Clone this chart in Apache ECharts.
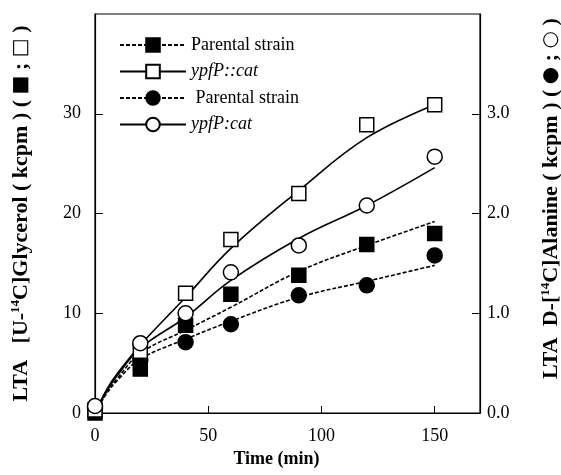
<!DOCTYPE html>
<html>
<head>
<meta charset="utf-8">
<script src="https://cdn.jsdelivr.net/npm/echarts@6/dist/echarts.min.js"></script>
<style>
  html, body { margin: 0; padding: 0; background: #fff; }
  #myChart { width: 561px; height: 475px; }
</style>
</head>
<body>
<div id="myChart"></div>
<script>
// measured points (time in min)
const times = [0, 20, 40, 60, 90, 120, 150]
// glycerol, left axis (kcpm)
const parentGly = [0, 4.4, 8.8, 11.9, 13.8, 16.9, 18.0]
const mutantGly = [0.3, 6.2, 12.0, 17.4, 22.0, 28.9, 30.9]
// alanine, right axis (kcpm)
const parentAla = [0.05, 0.53, 0.71, 0.89, 1.18, 1.28, 1.58]
const mutantAla = [0.07, 0.70, 1.00, 1.41, 1.68, 2.08, 2.57]

// fitted curves as drawn
const fitTimes = [0, 5, 10, 20, 40, 60, 90, 120, 150]
const parentGlyFit = [0, 2.0, 3.5, 6.0, 8.3, 10.6, 14.2, 16.8, 19.2]
const mutantGlyFit = [0, 2.3, 4.0, 6.8, 11.6, 16.5, 22.3, 27.6, 30.9]
const parentAlaFit = [0, 0.19, 0.33, 0.54, 0.74, 0.92, 1.16, 1.32, 1.48]
const mutantAlaFit = [0, 0.21, 0.38, 0.65, 0.96, 1.33, 1.75, 2.08, 2.46]

const legendNames = {
  sqP: 'Parental strain',
  sqM: '{i|ypfP::cat}',
  ciP: ' Parental strain',
  ciM: '{i|ypfP:cat}',
}

const pairs = (xs, ys) => xs.map((x, i) => [x, ys[i]])
const font = 'Liberation Serif'

const chart = echarts.init(document.getElementById('myChart'))

function curve(name, ys, yAxisIndex, dashed, symbol, filled) {
  return {
    name: name,
    type: 'line',
    smooth: 0.4,
    yAxisIndex: yAxisIndex,
    symbol: symbol,
    symbolSize: 13,
    showSymbol: false,
    itemStyle: { color: filled ? '#000' : '#fff', borderColor: '#000', borderWidth: 1.5 },
    lineStyle: { color: '#000', width: 1.6, type: dashed ? [4, 2] : 'solid' },
    data: pairs(fitTimes, ys),
    z: 2,
    silent: true,
  }
}

function marks(ys, yAxisIndex, symbol, filled) {
  return {
    type: 'scatter',
    yAxisIndex: yAxisIndex,
    symbol: symbol,
    symbolSize: symbol === 'rect' ? 14 : 15,
    itemStyle: { color: filled ? '#000' : '#fff', borderColor: '#000', borderWidth: 1.5, opacity: 1 },
    data: pairs(times, ys),
    z: filled ? 3 : 4,
    silent: true,
  }
}

const axisName = {
  fontFamily: font, fontSize: 22, fontWeight: 'bold', color: '#000',
  rich: {
    s: { fontFamily: font, fontSize: 13, fontWeight: 'bold', verticalAlign: 'top', padding: [0, 0, 11, 0] },
    b: { fontFamily: 'DejaVu Sans', fontSize: 20, color: '#000' },
  },
}

chart.setOption({
  animation: false,
  textStyle: { fontFamily: font, color: '#000' },
  grid: {
    left: 95, right: 81, top: 14, bottom: 62,
    outerBoundsMode: 'none',
    show: true, borderColor: '#000', borderWidth: 1.2,
  },
  legend: {
    left: 114, top: 31,
    orient: 'vertical',
    itemWidth: 66, itemHeight: 17, itemGap: 8.5,
    data: ['sqP', 'sqM', 'ciP', 'ciM'],
    formatter: n => legendNames[n],
    textStyle: {
      fontFamily: font, fontSize: 18, color: '#000', padding: [0, 0, 0, 0],
      rich: { i: { fontFamily: font, fontSize: 18, fontStyle: 'italic', color: '#000' } },
    },
  },
  xAxis: {
    type: 'value', min: 0, max: 170, interval: 50,
    name: 'Time (min)', nameLocation: 'middle', nameGap: 34,
    nameTextStyle: { fontFamily: font, fontSize: 18, fontWeight: 'bold', color: '#000', padding: [0, 22, 0, 0] },
    axisLine: { lineStyle: { color: '#000', width: 1.2 } },
    axisTick: { inside: true, length: 7, lineStyle: { color: '#000' } },
    axisLabel: { fontFamily: font, fontSize: 18, color: '#000', margin: 14, showMaxLabel: false },
    splitLine: { show: false },
  },
  yAxis: [{
    type: 'value', min: 0, max: 40, interval: 10,
    name: 'LTA   [U-{s|14}C]Glycerol ( kcpm ) ( {b|■} ; {b|□} )',
    nameLocation: 'middle', nameGap: 62, nameRotate: 90,
    nameTextStyle: axisName,
    axisLine: { show: true, lineStyle: { color: '#000', width: 1.2 } },
    axisTick: { show: true, inside: true, length: 8, lineStyle: { color: '#000' } },
    axisLabel: { fontFamily: font, fontSize: 18, color: '#000', margin: 14, showMaxLabel: false },
    splitLine: { show: false },
  }, {
    type: 'value', min: 0, max: 4, interval: 1, position: 'right',
    name: 'LTA  D-[{s|14}C]Alanine ( kcpm ) ( {b|●} ; {b|○} )',
    nameLocation: 'middle', nameGap: 59, nameRotate: 90,
    nameTextStyle: Object.assign({}, axisName, { padding: [0, 0, 0, 30] }),
    axisLine: { show: true, lineStyle: { color: '#000', width: 1.2 } },
    axisTick: { show: true, inside: true, length: 8, lineStyle: { color: '#000' } },
    axisLabel: { fontFamily: font, fontSize: 18, color: '#000', margin: 7, showMaxLabel: false, formatter: v => v.toFixed(1) },
    splitLine: { show: false },
  }],
  series: [
    curve('sqP', parentGlyFit, 0, true, 'rect', true),
    curve('sqM', mutantGlyFit, 0, false, 'rect', false),
    curve('ciP', parentAlaFit, 1, true, 'circle', true),
    curve('ciM', mutantAlaFit, 1, false, 'circle', false),
    marks(parentGly, 0, 'rect', true),
    marks(parentAla, 1, 'circle', true),
    marks(mutantGly, 0, 'rect', false),
    marks(mutantAla, 1, 'circle', false),
  ],
})
</script>
</body>
</html>
